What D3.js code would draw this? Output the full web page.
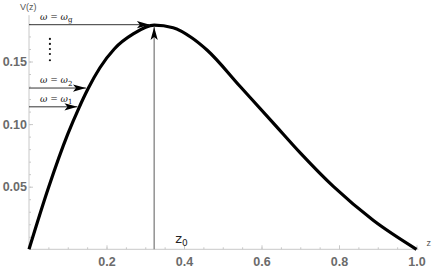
<!DOCTYPE html>
<html>
<head>
<meta charset="utf-8">
<script src="https://cdn.jsdelivr.net/npm/d3@7"></script>
<style>
    body { margin: 0; background: #fff; }
    svg { display: block; }
    .tick-label { font-family: "Liberation Sans", Arial, sans-serif; font-weight: bold; font-size: 12.5px; fill: #6b6b6b; }
    .axis-name { font-family: "Liberation Sans", Arial, sans-serif; font-size: 9px; fill: #555; }
    .omega { font-family: "DejaVu Serif", serif; font-size: 9px; fill: #111; }
</style>
</head>
<body>
<div id="chart"></div>
<script>
// curve
var zVals = [0, 0.05, 0.1, 0.129, 0.152, 0.183, 0.22, 0.269, 0.323, 0.372, 0.42, 0.46, 0.545, 0.63, 0.7, 0.786, 0.889, 1.0];
var vVals = [0, 0.049, 0.092, 0.113, 0.128, 0.145, 0.160, 0.172, 0.179, 0.177, 0.169, 0.159, 0.130, 0.101, 0.077, 0.050, 0.023, 0];

var xTicks = [0.2, 0.4, 0.6, 0.8, 1.0];
var yTicks = [0.05, 0.10, 0.15];

// horizontal arrows: level, where the head stops, label subscript
var arrowLabels = ["g", "2", "1"];
var arrowLevels = [0.1794, 0.1288, 0.1138];
var arrowEnds = [0.312, 0.147, 0.125];

var z0 = 0.323;
var z0Top = 0.1776;
var dotLevels = [0.168, 0.164, 0.160, 0.156, 0.151];
var dotZ = 0.054;

var width = 432, height = 268;

var x = d3.scaleLinear().domain([0, 1]).range([29, 416.5]);
var y = d3.scaleLinear().domain([0, 0.15]).range([249.3, 61.5]);

var svg = d3.select("#chart")
    .append("svg")
        .attr("width", width)
        .attr("height", height);

svg.append("defs")
    .append("marker")
        .attr("id", "head")
        .attr("markerUnits", "userSpaceOnUse")
        .attr("viewBox", "-14 -4 15 8")
        .attr("refX", 0)
        .attr("refY", 0)
        .attr("markerWidth", 15)
        .attr("markerHeight", 8)
        .attr("orient", "auto")
    .append("path")
        .attr("d", "M0,0 L-13,-3.6 L-10,0 L-13,3.6 Z")
        .style("fill", "#000");

// axes
var xAxis = svg.append("g")
    .attr("transform", "translate(0," + y(0) + ")");
xAxis.append("g")
    .call(d3.axisBottom(x).tickValues(d3.range(0.05, 1.001, 0.05)).tickSize(-2).tickFormat(""))
    .call(function(g) { g.select(".domain").remove(); });
xAxis.append("g")
    .call(d3.axisBottom(x).tickValues(xTicks).tickSizeInner(-4).tickSizeOuter(0).tickPadding(8).tickFormat(d3.format(".1f")))
    .call(function(g) { g.select(".domain").attr("d", "M" + x(0) + ",0H" + (x(1) + 2)); });

var yAxis = svg.append("g")
    .attr("transform", "translate(" + x(0) + ",0)");
yAxis.append("g")
    .call(d3.axisLeft(y).tickValues(d3.range(0.01, 0.186, 0.01)).tickSize(-2).tickFormat(""))
    .call(function(g) { g.select(".domain").remove(); });
yAxis.append("g")
    .call(d3.axisLeft(y).tickValues(yTicks).tickSizeInner(-4).tickSizeOuter(0).tickPadding(2).tickFormat(d3.format(".2f")))
    .call(function(g) { g.select(".domain").attr("d", "M0," + y(0) + "V" + y(0.187)); });

svg.selectAll(".domain").style("stroke", "#c8c8c8");
svg.selectAll(".tick line").style("stroke", "#c8c8c8");
svg.selectAll(".tick text")
    .classed("tick-label", true)
    .attr("font-family", null)
    .attr("font-size", null)
    .style("fill", "#6b6b6b");

svg.append("text")
    .classed("axis-name", true)
    .attr("x", 20)
    .attr("y", 10)
    .text("V(z)");

svg.append("text")
    .classed("axis-name", true)
    .attr("x", x(1) + 10)
    .attr("y", y(0) - 3)
    .text("z");

// vertical arrow at z0
svg.append("line")
    .attr("x1", x(z0)).attr("x2", x(z0))
    .attr("y1", y(0)).attr("y2", y(z0Top))
    .style("stroke", "#808080")
    .style("stroke-width", 1.3)
    .attr("marker-end", "url(#head)");

var z0Label = svg.append("text")
    .attr("x", x(z0) + 21)
    .attr("y", y(0) - 6)
    .style("font-family", "'DejaVu Sans', sans-serif")
    .style("font-size", "13px")
    .style("fill", "#222");
z0Label.append("tspan").text("z");
z0Label.append("tspan").attr("dy", 3).style("font-size", "9px").text("0");

// the curve
var pts = zVals.map(function(z, i) { return [z, vVals[i]]; });
svg.append("path")
    .datum(pts)
    .attr("d", d3.line()
        .x(function(d) { return x(d[0]); })
        .y(function(d) { return y(d[1]); })
        .curve(d3.curveMonotoneX))
    .style("fill", "none")
    .style("stroke", "#000")
    .style("stroke-width", 3.2);

// horizontal arrows
var arrows = svg.selectAll(".omega-arrow")
    .data(arrowLabels)
    .enter()
    .append("g")
        .classed("omega-arrow", true);

arrows.append("line")
    .attr("x1", x(0))
    .attr("x2", function(d, i) { return x(arrowEnds[i]); })
    .attr("y1", function(d, i) { return y(arrowLevels[i]); })
    .attr("y2", function(d, i) { return y(arrowLevels[i]); })
    .style("stroke", "#333")
    .style("stroke-width", 1)
    .attr("marker-end", "url(#head)");

var omegaText = arrows.append("text")
    .classed("omega", true)
    .attr("x", 40)
    .attr("y", function(d, i) { return y(arrowLevels[i]) - 5; });
omegaText.append("tspan").style("font-style", "italic").text("ω");
omegaText.append("tspan").text(" = ");
omegaText.append("tspan").style("font-style", "italic").text("ω");
omegaText.append("tspan")
    .attr("dy", 2.5)
    .style("font-size", "7px")
    .text(function(d) { return d; });

svg.selectAll(".dot")
    .data(dotLevels)
    .enter()
    .append("circle")
        .classed("dot", true)
        .attr("cx", x(dotZ))
        .attr("cy", function(d) { return y(d); })
        .attr("r", 1.1)
        .style("fill", "#111");
</script>
</body>
</html>
